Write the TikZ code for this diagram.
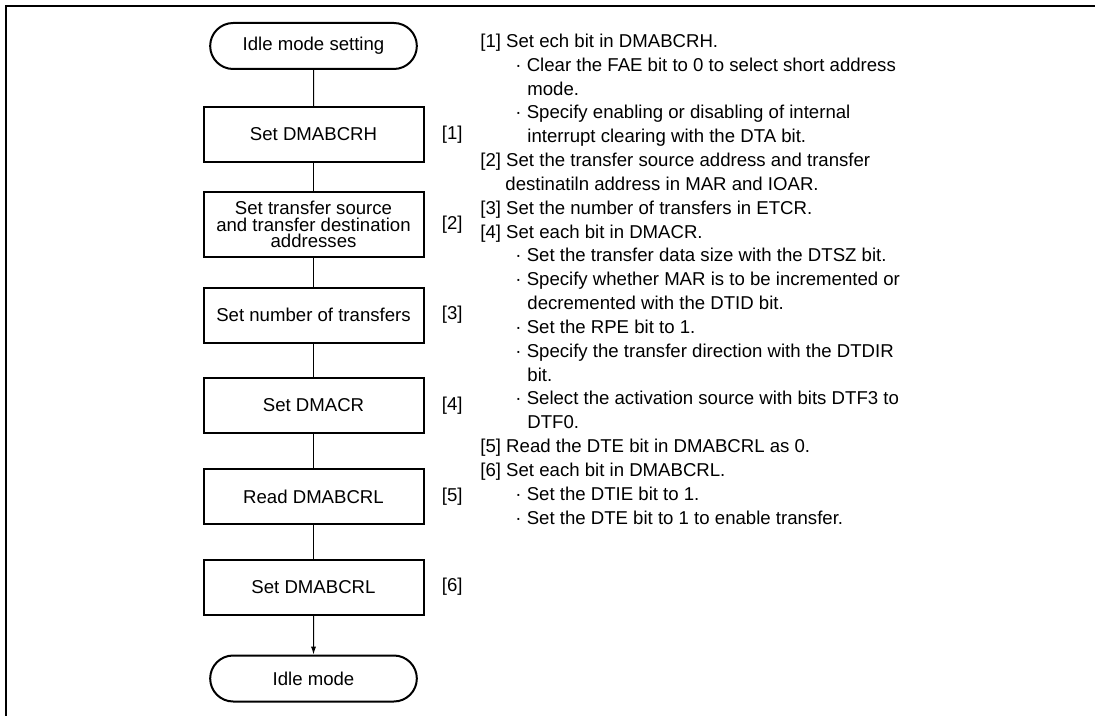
\documentclass[tikz,border=0pt]{standalone}
\usepackage{fontspec}
\setmainfont{Liberation Sans}
\usetikzlibrary{shapes.misc,arrows.meta,positioning}
\tikzset{
  stepbox/.style={
    draw,
    line width=1pt,
    minimum width=110pt,
    minimum height=27.5pt,
    align=center,
    inner sep=1pt
  },
  terminal/.style={
    draw,
    line width=1pt,
    rounded rectangle,
    minimum width=110pt,
    minimum height=23pt
  },
  steplabel/.style={
    anchor=west,
    inner sep=0pt
  },
  link/.style={line width=0.5pt},
  every picture/.style = {
    font=\fontsize{9.3pt}{11.92pt}\selectfont
  }
}

\begin{document}
\begin{tikzpicture}[x=0.5pt,y=-0.5pt]
        \useasboundingbox (0,0) rectangle (1095,716);
        \draw[line width=1pt] (1095,6)--(6,6)--(6,716);
        % flow chart
        \node[terminal] (start) at (313.5,46) {Idle mode setting};
        \node[stepbox] (s1) at (313.5,134.5) {Set DMABCRH};
        \node[stepbox, minimum height=32.5pt,
              font=\fontsize{9.3pt}{8.4pt}\selectfont] (s2) at (313.5,224.5)
              {Set transfer source\\and transfer destination\\addresses};
        \node[stepbox] (s3) at (313.5,315) {Set number of transfers};
        \node[stepbox] (s4) at (313.5,405.5) {Set DMACR};
        \node[stepbox] (s5) at (313.5,496.5) {Read DMABCRL};
        \node[stepbox] (s6) at (313.5,587) {Set DMABCRL};
        \node[terminal] (stop) at (313.5,678.5) {Idle mode};
        %
        \node[steplabel, right=8.5pt of s1] (l1) {[1]};
        \node[steplabel, right=8.5pt of s2] (l2) {[2]};
        \node[steplabel, right=8.5pt of s3] (l3) {[3]};
        \node[steplabel, right=8.5pt of s4] (l4) {[4]};
        \node[steplabel, right=8.5pt of s5] (l5) {[5]};
        \node[steplabel, right=8.5pt of s6] (l6) {[6]};
        %
        \draw[link] (start)--(s1);
        \draw[link] (s1)--(s2);
        \draw[link] (s2)--(s3);
        \draw[link] (s3)--(s4);
        \draw[link] (s4)--(s5);
        \draw[link] (s5)--(s6);
        \draw[link,-{Latex[length=4pt,width=2.6pt]}] (s6)--(stop);
        % notes
        \node[anchor=north west, align=left, inner sep=0pt] (notes) at (480,33.5) {%
          {[1]} Set ech bit in DMABCRH.\\
          \hspace*{17.5pt}· Clear the FAE bit to 0 to select short address\\
          \hspace*{23.5pt}mode.\\
          \hspace*{17.5pt}· Specify enabling or disabling of internal\\
          \hspace*{23.5pt}interrupt clearing with the DTA bit.\\
          {[2]} Set the transfer source address and transfer\\
          \hspace*{12.5pt}destinatiln address in MAR and IOAR.\\
          {[3]} Set the number of transfers in ETCR.\\
          {[4]} Set each bit in DMACR.\\
          \hspace*{17.5pt}· Set the transfer data size with the DTSZ bit.\\
          \hspace*{17.5pt}· Specify whether MAR is to be incremented or\\
          \hspace*{23.5pt}decremented with the DTID bit.\\
          \hspace*{17.5pt}· Set the RPE bit to 1.\\
          \hspace*{17.5pt}· Specify the transfer direction with the DTDIR\\
          \hspace*{23.5pt}bit.\\
          \hspace*{17.5pt}· Select the activation source with bits DTF3 to\\
          \hspace*{23.5pt}DTF0.\\
          {[5]} Read the DTE bit in DMABCRL as 0.\\
          {[6]} Set each bit in DMABCRL.\\
          \hspace*{17.5pt}· Set the DTIE bit to 1.\\
          \hspace*{17.5pt}· Set the DTE bit to 1 to enable transfer.};
\end{tikzpicture}
\end{document}
